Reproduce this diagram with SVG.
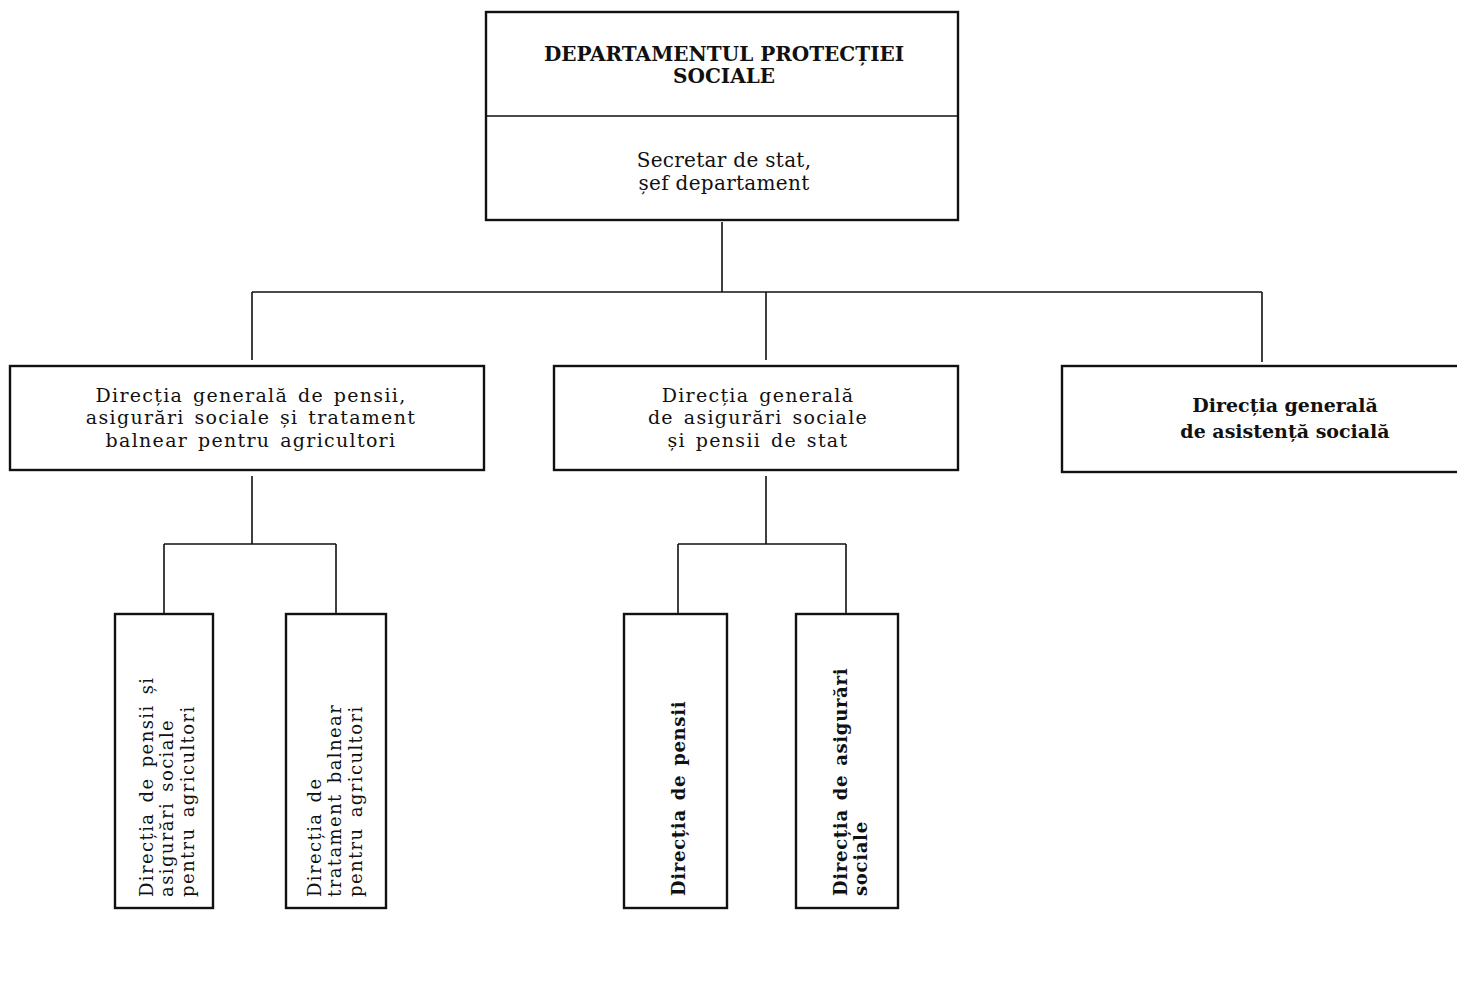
<svg xmlns="http://www.w3.org/2000/svg" width="1457" height="985" viewBox="0 0 1457 985">
<style>
.box{fill:#fff;stroke:#111;stroke-width:2.4}
.ln{stroke:#111;stroke-width:1.6;fill:none}
text{font-family:"DejaVu Serif","Liberation Serif",serif;fill:#111;text-anchor:middle}
.t{font-size:19px;letter-spacing:1.3px;word-spacing:2.5px}
.s{font-size:20px;letter-spacing:0.3px}
.b{font-size:20px;font-weight:bold}
.c{font-size:19px;font-weight:bold}
.v{font-size:18px;letter-spacing:1.4px;word-spacing:3px;text-anchor:start}
.vb{font-size:18px;font-weight:bold;letter-spacing:0.7px;word-spacing:2px;text-anchor:start}
</style>
<rect width="1457" height="985" fill="#fff"/>
<g id="connectors">
<path class="ln" d="M722 222V292M252 292H1262M252 292V360M766 292V360M1262 292V362"/>
<path class="ln" d="M252 476V544M164 544H336M164 544V614M336 544V614"/>
<path class="ln" d="M766 476V544M678 544H846M678 544V614M846 544V614"/>
</g>
<g id="dept">
<rect class="box" x="486" y="12" width="472" height="208"/>
<line class="ln" x1="486" y1="116" x2="958" y2="116" stroke-width="2"/>
<text class="b" x="724" y="61">DEPARTAMENTUL PROTECȚIEI</text>
<text class="b" x="724" y="83">SOCIALE</text>
<text class="s" x="724" y="167">Secretar de stat,</text>
<text class="s" x="724" y="190">șef departament</text>
</g>
<g id="dg-pensii-agricultori">
<rect class="box" x="10" y="366" width="474" height="104"/>
<text class="t" x="251" y="402">Direcția generală de pensii,</text>
<text class="t" x="251" y="424">asigurări sociale și tratament</text>
<text class="t" x="251" y="447">balnear pentru agricultori</text>
</g>
<g id="dg-asigurari-stat">
<rect class="box" x="554" y="366" width="404" height="104"/>
<text class="t" x="758" y="402">Direcția generală</text>
<text class="t" x="758" y="424">de asigurări sociale</text>
<text class="t" x="758" y="447">și pensii de stat</text>
</g>
<g id="dg-asistenta">
<rect class="box" x="1062" y="366" width="400" height="106"/>
<text class="c" x="1285" y="412">Direcția generală</text>
<text class="c" x="1285" y="438">de asistență socială</text>
</g>
<g id="d-pensii-agricultori">
<rect class="box" x="115" y="614" width="98" height="294"/>
<text class="v" transform="translate(153 897) rotate(-90)">Direcția de pensii și</text>
<text class="v" transform="translate(173 897) rotate(-90)">asigurări sociale</text>
<text class="v" transform="translate(194 897) rotate(-90)">pentru agricultori</text>
</g>
<g id="d-tratament-balnear">
<rect class="box" x="286" y="614" width="100" height="294"/>
<text class="v" transform="translate(321 897) rotate(-90)">Direcția de</text>
<text class="v" transform="translate(341 897) rotate(-90)">tratament balnear</text>
<text class="v" transform="translate(362 897) rotate(-90)">pentru agricultori</text>
</g>
<g id="d-pensii">
<rect class="box" x="624" y="614" width="103" height="294"/>
<text class="vb" transform="translate(685 896) rotate(-90)">Direcția de pensii</text>
</g>
<g id="d-asigurari">
<rect class="box" x="796" y="614" width="102" height="294"/>
<text class="vb" transform="translate(847 896) rotate(-90)">Direcția de asigurări</text>
<text class="vb" transform="translate(867 896) rotate(-90)">sociale</text>
</g>
</svg>
